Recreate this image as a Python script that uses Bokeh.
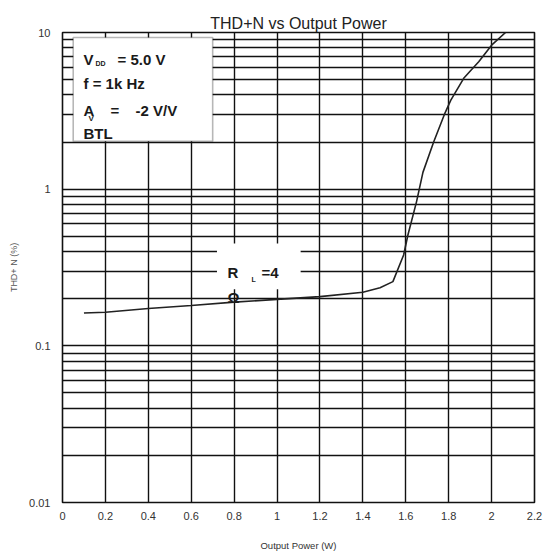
from bokeh.plotting import figure
from bokeh.models import (FixedTicker, CustomJSTickFormatter, BoxAnnotation, Label, Range1d)
from bokeh.embed import file_html
from bokeh.resources import INLINE

# ---- data ----
output_power = [0.1, 0.2, 0.4, 0.6, 0.8, 1.0, 1.2, 1.4, 1.48, 1.54, 1.59, 1.61, 1.65,
                1.68, 1.73, 1.78, 1.81, 1.87, 1.94, 2.0, 2.065]
thd_n = [0.162, 0.164, 0.173, 0.181, 0.19, 0.198, 0.206, 0.22, 0.235, 0.257, 0.38, 0.51, 0.83,
         1.28, 2.0, 3.0, 3.7, 5.1, 6.5, 8.3, 10.0]

x_ticks = [0, 0.2, 0.4, 0.6, 0.8, 1.0, 1.2, 1.4, 1.6, 1.8, 2.0, 2.2]
x_tick_labels = ["0", "0.2", "0.4", "0.6", "0.8", "1", "1.2", "1.4", "1.6", "1.8", "2", "2.2"]
y_ticks = [0.01, 0.1, 1, 10]
y_tick_labels = ["0.01", "0.1", "1", "10"]
y_minor = [m * d for d in [0.01, 0.1, 1] for m in range(2, 10)]

FONT = "Liberation Sans"

p = figure(width=549, height=554, y_axis_type="log",
           x_range=Range1d(0, 2.2), y_range=Range1d(0.01, 10),
           output_backend="svg", toolbar_location=None,
           title="THD+N vs Output Power",
           min_border_left=62, min_border_right=15, min_border_top=32, min_border_bottom=52)

p.title.align = "center"
p.title.text_font = FONT
p.title.text_font_size = "16px"
p.title.text_font_style = "normal"
p.title.text_color = "#222222"
p.title.standoff = 2

p.outline_line_color = "#111111"
p.outline_line_width = 1.6
p.background_fill_color = "white"
p.border_fill_color = "white"

def fmt(ticks, labels):
    return CustomJSTickFormatter(args=dict(t=ticks, l=labels), code="""
        let best = 0, bd = Infinity;
        for (let i = 0; i < t.length; i++) {
            const d2 = Math.abs(t[i] - tick) / Math.max(Math.abs(tick), 1e-6);
            if (d2 < bd) { bd = d2; best = i; }
        }
        return l[best];
    """)

p.xaxis.ticker = FixedTicker(ticks=x_ticks)
p.xaxis.formatter = fmt(x_ticks, x_tick_labels)
p.yaxis.ticker = FixedTicker(ticks=y_ticks, minor_ticks=y_minor)
p.yaxis.formatter = fmt(y_ticks, y_tick_labels)

for ax in (p.xaxis[0], p.yaxis[0]):
    ax.axis_line_color = None
    ax.major_tick_line_color = None
    ax.minor_tick_line_color = None
    ax.major_tick_out = 0
    ax.major_tick_in = 0
    ax.minor_tick_out = 0
    ax.minor_tick_in = 0
    ax.major_label_text_font = FONT
    ax.major_label_text_font_size = "11px"
    ax.major_label_text_color = "#333333"
    ax.axis_label_text_font = FONT
    ax.axis_label_text_font_style = "normal"
    ax.axis_label_text_color = "#333333"

p.xaxis.major_label_standoff = 9
p.yaxis.major_label_standoff = 12
p.xaxis.axis_label = "Output Power (W)"
p.xaxis.axis_label_text_font_size = "9.5px"
p.xaxis.axis_label_standoff = 17
p.yaxis.axis_label = "THD+ N (%)"
p.yaxis.axis_label_text_font_size = "9px"
p.yaxis.axis_label_text_color = "#555555"
p.yaxis.axis_label_standoff = 7

p.xgrid.ticker = FixedTicker(ticks=x_ticks)
p.xgrid.grid_line_color = "#111111"
p.xgrid.grid_line_width = 1.4
p.ygrid.ticker = FixedTicker(ticks=y_ticks, minor_ticks=y_minor)
p.ygrid.grid_line_color = "#111111"
p.ygrid.grid_line_width = 1.4
p.ygrid.minor_grid_line_color = "#111111"
p.ygrid.minor_grid_line_width = 1.4

p.line(output_power, thd_n, line_color="#222222", line_width=1.6)

# conditions box
p.add_layout(BoxAnnotation(left=0.05, right=0.70, bottom=2.02, top=9.3,
                           fill_color="white", fill_alpha=1.0,
                           line_color="#111111", line_width=1.6))

def lab(x, y, text, size="15px", bold=True, **kw):
    p.add_layout(Label(x=x, y=y, text=text, text_font=FONT, text_font_size=size,
                       text_font_style="bold" if bold else "normal",
                       text_color="#1a1a1a", text_baseline="alphabetic", **kw))

def px2x(px):
    return (px - 62) / 214.5

def py2y(py):
    return 10 ** ((189 - py) / 156.7)

lab(px2x(83), py2y(59), "V")
lab(px2x(95), py2y(63), "DD", size="7px")
lab(px2x(117), py2y(59), "= 5.0 V")
lab(px2x(83), py2y(83), "f = 1k Hz")
lab(px2x(83), py2y(110), "A")
lab(px2x(88), py2y(118), "V", size="8px")
lab(px2x(110), py2y(110), "=")
lab(px2x(135), py2y(110), "-2 V/V")
lab(px2x(83), py2y(133), "BTL")

# R_L label box
p.add_layout(BoxAnnotation(left=0.72, right=1.11, bottom=0.23, top=0.45,
                           fill_color="white", fill_alpha=1.0, line_color=None))
lab(px2x(227), py2y(272), "R")
lab(px2x(251), py2y(279), "L", size="7px")
lab(px2x(261), py2y(272), "=4")
lab(px2x(227), py2y(297), "Ω")

open("out.html", "w").write(file_html(p, INLINE))
